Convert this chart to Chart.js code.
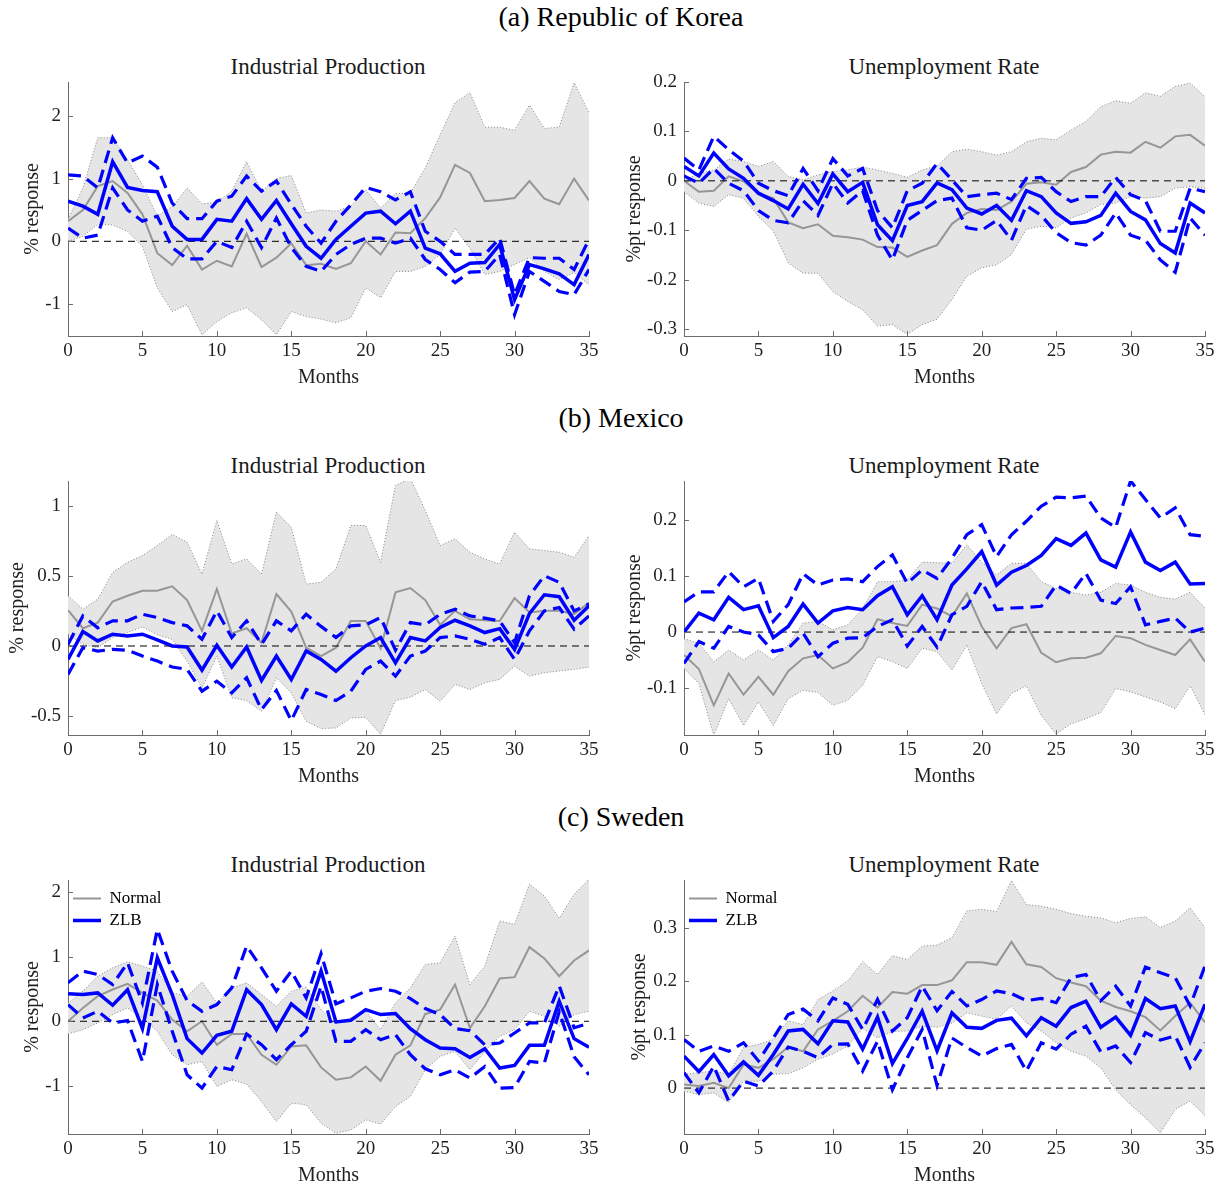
<!DOCTYPE html>
<html>
<head>
<meta charset="utf-8">
<script src="https://cdn.jsdelivr.net/npm/chart.js@4.4.1/dist/chart.umd.min.js"></script>
<style>
  html, body { margin:0; padding:0; background:#fff; }
  body { width:1224px; height:1186px; position:relative; overflow:hidden; font-family:'Liberation Serif', serif; }
  .sec { position:absolute; left:9px; width:1224px; text-align:center; font-size:28px; line-height:28px; color:#000; }
  .sub { position:absolute; width:500px; text-align:center; font-size:23px; line-height:23px; color:#1a1a1a; }
  canvas { position:absolute; }
</style>
</head>
<body>
<div class="sec" style="top:3px">(a) Republic of Korea</div>
<div class="sec" style="top:404px">(b) Mexico</div>
<div class="sec" style="top:803px">(c) Sweden</div>

<div class="sub" style="left:78px;top:55px">Industrial Production</div>
<div class="sub" style="left:694px;top:55px">Unemployment Rate</div>
<div class="sub" style="left:78px;top:454px">Industrial Production</div>
<div class="sub" style="left:694px;top:454px">Unemployment Rate</div>
<div class="sub" style="left:78px;top:853px">Industrial Production</div>
<div class="sub" style="left:694px;top:853px">Unemployment Rate</div>

<canvas id="kIP"></canvas>
<canvas id="kUR"></canvas>
<canvas id="mIP"></canvas>
<canvas id="mUR"></canvas>
<canvas id="sIP"></canvas>
<canvas id="sUR"></canvas>

<script>
// ---------------- DATA ----------------
const months = [0,1,2,3,4,5,6,7,8,9,10,11,12,13,14,15,16,17,18,19,20,21,22,23,24,25,26,27,28,29,30,31,32,33,34,35];
const xTicks = [0,5,10,15,20,25,30,35];
const zeroLineX = [0, 35];
const zeroLineY = [0, 0];

// (a) Korea – Industrial Production
const kIP_yTicks = [-1, 0, 1, 2];
const kIP_zlb = [0.64,0.56,0.43,1.27,0.86,0.81,0.79,0.24,0.03,0.03,0.35,0.32,0.68,0.35,0.65,0.28,-0.08,-0.27,0.03,0.24,0.45,0.48,0.28,0.48,-0.11,-0.20,-0.48,-0.35,-0.34,-0.05,-0.93,-0.37,-0.44,-0.52,-0.69,-0.21];
const kIP_zlbUp = [1.06,1.04,0.85,1.65,1.25,1.36,1.18,0.61,0.36,0.36,0.64,0.72,1.04,0.80,0.96,0.59,0.24,-0.03,0.32,0.58,0.86,0.79,0.66,0.79,0.16,0.00,-0.21,-0.21,-0.21,0.05,-0.85,-0.26,-0.27,-0.27,-0.45,0.03];
const kIP_zlbLo = [0.21,0.05,0.10,0.85,0.50,0.32,0.40,-0.10,-0.28,-0.28,0.00,-0.10,0.32,-0.10,0.37,-0.10,-0.40,-0.48,-0.21,-0.05,0.05,0.05,-0.03,0.05,-0.29,-0.45,-0.66,-0.49,-0.48,-0.21,-1.17,-0.48,-0.64,-0.80,-0.85,-0.45];
const kIP_normal = [0.32,0.50,0.88,0.96,0.77,0.43,-0.19,-0.38,-0.07,-0.45,-0.31,-0.40,0.12,-0.41,-0.26,-0.03,-0.38,-0.36,-0.44,-0.35,0.00,-0.21,0.14,0.13,0.37,0.70,1.22,1.09,0.64,0.66,0.69,0.96,0.68,0.59,1.00,0.65];
const kIP_bandUp = [0.35,0.85,1.65,1.65,1.30,0.90,0.40,0.55,0.85,0.60,0.62,0.80,1.27,0.80,1.00,1.05,0.45,0.50,0.48,0.56,0.82,0.53,0.76,0.77,1.17,1.70,2.21,2.37,1.82,1.82,1.77,2.17,1.80,1.82,2.53,2.05];
const kIP_bandLo = [0.00,0.08,0.27,0.26,0.16,-0.08,-0.74,-1.12,-1.01,-1.49,-1.28,-1.14,-1.06,-1.25,-1.49,-1.12,-1.20,-1.24,-1.30,-1.22,-0.74,-0.90,-0.48,-0.48,-0.40,-0.21,0.21,-0.11,-0.53,-0.48,-0.37,-0.26,-0.48,-0.61,-0.50,-0.69];

// (a) Korea – Unemployment Rate
const kUR_yTicks = [-0.3, -0.2, -0.1, 0, 0.1, 0.2];
const kUR_zlb = [0.029,0.010,0.056,0.024,0.005,-0.025,-0.040,-0.057,-0.007,-0.046,0.014,-0.022,-0.003,-0.089,-0.121,-0.050,-0.042,-0.004,-0.018,-0.055,-0.067,-0.050,-0.080,-0.020,-0.032,-0.065,-0.086,-0.083,-0.070,-0.025,-0.062,-0.079,-0.127,-0.146,-0.045,-0.065];
const kUR_zlbUp = [0.046,0.022,0.090,0.063,0.040,-0.005,-0.020,-0.030,0.025,-0.020,0.045,0.010,0.025,-0.060,-0.095,-0.020,-0.005,0.035,0.002,-0.032,-0.028,-0.025,-0.038,0.005,0.007,-0.022,-0.042,-0.032,-0.032,0.007,-0.028,-0.040,-0.102,-0.102,-0.015,-0.022];
const kUR_zlbLo = [0.010,-0.005,0.025,-0.005,-0.020,-0.060,-0.080,-0.085,-0.040,-0.070,-0.005,-0.045,-0.020,-0.110,-0.160,-0.080,-0.060,-0.040,-0.035,-0.095,-0.100,-0.080,-0.120,-0.050,-0.070,-0.105,-0.125,-0.130,-0.110,-0.065,-0.110,-0.120,-0.160,-0.185,-0.075,-0.110];
const kUR_normal = [0.000,-0.022,-0.020,0.009,-0.001,-0.026,-0.035,-0.084,-0.096,-0.088,-0.111,-0.114,-0.119,-0.134,-0.135,-0.154,-0.141,-0.130,-0.087,-0.065,-0.057,-0.059,-0.042,-0.006,-0.003,-0.008,0.018,0.028,0.053,0.059,0.057,0.079,0.067,0.090,0.093,0.071];
const kUR_bandUp = [0.000,0.016,0.022,0.044,0.039,0.029,0.039,0.009,0.002,0.012,0.019,0.022,0.028,0.022,0.015,0.007,0.022,0.030,0.059,0.064,0.059,0.052,0.059,0.079,0.086,0.083,0.103,0.120,0.150,0.162,0.157,0.178,0.171,0.191,0.198,0.170];
const kUR_bandLo = [-0.022,-0.045,-0.052,-0.028,-0.035,-0.072,-0.102,-0.166,-0.187,-0.187,-0.224,-0.244,-0.261,-0.294,-0.291,-0.311,-0.291,-0.280,-0.240,-0.193,-0.176,-0.170,-0.149,-0.098,-0.092,-0.095,-0.075,-0.065,-0.048,-0.045,-0.032,-0.035,-0.032,-0.015,-0.012,-0.015];

// (b) Mexico – Industrial Production
const mIP_yTicks = [-0.5, 0, 0.5, 1];
const mIP_zlb = [-0.096,0.103,0.036,0.084,0.072,0.084,0.043,0.000,-0.007,-0.172,0.005,-0.150,-0.007,-0.246,-0.072,-0.239,-0.036,-0.096,-0.180,-0.084,0.000,0.060,-0.120,0.060,0.036,0.132,0.184,0.144,0.096,0.124,-0.024,0.232,0.366,0.352,0.184,0.287];
const mIP_zlbUp = [0.010,0.215,0.130,0.180,0.180,0.227,0.203,0.167,0.144,0.048,0.251,0.060,0.180,0.012,0.180,0.108,0.227,0.140,0.060,0.144,0.151,0.203,-0.030,0.167,0.151,0.227,0.263,0.215,0.199,0.179,0.024,0.359,0.502,0.455,0.250,0.300];
const mIP_zlbLo = [-0.203,-0.012,-0.036,-0.024,-0.031,-0.072,-0.108,-0.150,-0.167,-0.323,-0.251,-0.335,-0.227,-0.455,-0.318,-0.533,-0.311,-0.347,-0.390,-0.323,-0.167,-0.108,-0.215,-0.072,-0.036,0.060,0.072,0.048,0.012,0.060,-0.096,0.108,0.251,0.275,0.120,0.215];
const mIP_normal = [0.256,0.127,0.167,0.318,0.359,0.395,0.395,0.426,0.328,0.108,0.407,0.089,0.127,0.024,0.371,0.246,-0.012,-0.072,-0.012,0.179,0.179,-0.017,0.383,0.414,0.328,0.151,0.251,0.191,0.184,0.179,0.342,0.239,0.251,0.251,0.227,0.311];
const mIP_bandUp = [0.359,0.263,0.335,0.526,0.598,0.646,0.718,0.797,0.742,0.514,0.897,0.586,0.622,0.514,0.957,0.849,0.443,0.455,0.550,0.861,0.861,0.598,1.148,1.196,0.969,0.718,0.766,0.670,0.622,0.586,0.813,0.694,0.682,0.670,0.634,0.789];
const mIP_bandLo = [0.084,0.012,-0.012,0.060,0.096,0.136,0.080,0.048,-0.108,-0.300,-0.072,-0.370,-0.390,-0.466,-0.227,-0.335,-0.538,-0.590,-0.586,-0.514,-0.510,-0.630,-0.390,-0.366,-0.311,-0.395,-0.275,-0.311,-0.263,-0.239,-0.144,-0.215,-0.191,-0.179,-0.167,-0.151];

// (b) Mexico – Unemployment Rate
const mUR_yTicks = [-0.1, 0, 0.1, 0.2];
const mUR_zlb = [0.000,0.034,0.022,0.062,0.040,0.047,-0.010,0.010,0.050,0.016,0.038,0.044,0.040,0.065,0.081,0.031,0.065,0.022,0.084,0.113,0.144,0.084,0.107,0.119,0.137,0.167,0.155,0.177,0.129,0.116,0.179,0.125,0.110,0.125,0.086,0.087];
const mUR_zlbUp = [0.054,0.072,0.072,0.108,0.081,0.096,0.019,0.049,0.104,0.084,0.093,0.095,0.090,0.117,0.138,0.087,0.111,0.096,0.132,0.174,0.192,0.135,0.174,0.198,0.225,0.241,0.240,0.243,0.204,0.187,0.270,0.237,0.204,0.222,0.174,0.171];
const mUR_zlbLo = [-0.056,-0.017,-0.029,0.010,0.000,-0.005,-0.035,-0.029,-0.002,-0.044,-0.020,-0.011,-0.010,0.010,0.022,-0.025,0.010,-0.027,0.031,0.046,0.090,0.040,0.043,0.044,0.046,0.084,0.069,0.105,0.057,0.051,0.081,0.013,0.019,0.025,0.000,0.007];
const mUR_normal = [-0.041,-0.066,-0.131,-0.074,-0.112,-0.080,-0.112,-0.070,-0.047,-0.041,-0.065,-0.054,-0.028,0.023,0.016,0.011,0.049,0.042,0.028,0.069,0.010,-0.029,0.007,0.014,-0.037,-0.054,-0.047,-0.046,-0.038,-0.007,-0.011,-0.023,-0.032,-0.041,-0.013,-0.053];
const mUR_bandUp = [-0.012,-0.020,-0.053,-0.032,-0.050,-0.032,-0.050,-0.023,0.016,0.019,0.004,0.013,0.042,0.090,0.090,0.093,0.125,0.124,0.123,0.156,0.125,0.102,0.123,0.123,0.090,0.078,0.071,0.066,0.071,0.087,0.084,0.071,0.062,0.059,0.071,0.043];
const mUR_bandLo = [-0.065,-0.092,-0.185,-0.119,-0.167,-0.125,-0.167,-0.119,-0.104,-0.108,-0.131,-0.122,-0.095,-0.044,-0.053,-0.065,-0.029,-0.035,-0.068,-0.023,-0.092,-0.146,-0.110,-0.096,-0.149,-0.182,-0.164,-0.155,-0.144,-0.101,-0.107,-0.116,-0.125,-0.137,-0.096,-0.148];

// (c) Sweden – Industrial Production
const sIP_yTicks = [-1, 0, 1, 2];
const sIP_zlb = [0.425,0.415,0.440,0.249,0.490,-0.114,0.984,0.415,-0.269,-0.492,-0.218,-0.155,0.490,0.259,-0.130,0.269,0.078,0.780,-0.010,0.016,0.181,0.104,0.119,-0.114,-0.285,-0.415,-0.425,-0.560,-0.425,-0.725,-0.684,-0.373,-0.373,0.311,-0.269,-0.404];
const sIP_zlbUp = [0.596,0.777,0.725,0.570,0.907,0.285,1.425,0.777,0.321,0.155,0.259,0.518,1.166,0.829,0.466,0.777,0.363,1.050,0.269,0.363,0.466,0.508,0.466,0.352,0.197,0.104,-0.114,-0.145,-0.363,-0.337,-0.181,-0.026,-0.026,0.550,-0.100,-0.030];
const sIP_zlbLo = [0.259,0.052,0.155,-0.026,0.010,-0.622,0.570,-0.155,-0.829,-1.036,-0.700,-0.751,-0.197,-0.363,-0.596,-0.363,-0.155,0.540,-0.311,-0.311,-0.130,-0.285,-0.207,-0.518,-0.736,-0.829,-0.751,-0.881,-0.700,-1.036,-1.026,-0.622,-0.648,0.150,-0.550,-0.830];
const sIP_normal = [0.000,0.207,0.389,0.492,0.580,0.440,0.321,0.026,-0.155,0.000,-0.363,-0.197,-0.197,-0.518,-0.674,-0.389,-0.373,-0.715,-0.907,-0.870,-0.700,-0.922,-0.518,-0.373,0.114,0.181,0.570,-0.104,0.233,0.663,0.684,1.150,0.974,0.699,0.943,1.098];
const sIP_bandUp = [0.280,0.466,0.699,0.829,0.922,0.855,0.777,0.440,0.389,0.611,0.285,0.518,0.596,0.415,0.233,0.466,0.528,0.181,-0.030,0.052,0.155,-0.130,0.285,0.518,0.881,0.907,1.321,0.570,0.855,1.554,1.503,2.124,1.943,1.596,1.969,2.200];
const sIP_bandLo = [-0.197,-0.130,-0.026,0.104,0.207,0.052,-0.155,-0.518,-0.674,-0.622,-1.010,-0.907,-0.974,-1.244,-1.554,-1.269,-1.295,-1.580,-1.736,-1.684,-1.528,-1.596,-1.321,-1.166,-0.751,-0.544,-0.466,-0.751,-0.466,-0.233,-0.130,0.155,0.078,-0.078,0.104,0.155];

// (c) Sweden – Unemployment Rate
const sUR_yTicks = [0, 0.1, 0.2, 0.3];
const sUR_zlb = [0.060,0.031,0.063,0.023,0.049,0.024,0.063,0.107,0.110,0.083,0.126,0.124,0.073,0.133,0.046,0.093,0.144,0.070,0.141,0.114,0.112,0.127,0.131,0.098,0.132,0.116,0.151,0.163,0.114,0.133,0.099,0.168,0.149,0.154,0.087,0.157];
const sUR_zlbUp = [0.091,0.069,0.079,0.069,0.085,0.051,0.094,0.138,0.148,0.126,0.169,0.157,0.110,0.166,0.107,0.132,0.191,0.145,0.181,0.154,0.166,0.182,0.177,0.164,0.168,0.160,0.207,0.213,0.164,0.191,0.154,0.227,0.216,0.207,0.154,0.229];
const sUR_zlbLo = [0.029,-0.009,0.041,-0.024,0.013,0.004,0.032,0.077,0.069,0.057,0.082,0.083,0.032,0.088,-0.003,0.057,0.110,0.005,0.094,0.076,0.060,0.074,0.082,0.032,0.085,0.073,0.101,0.116,0.068,0.079,0.048,0.104,0.090,0.098,0.039,0.085];
const sUR_normal = [0.007,0.004,0.010,0.000,0.044,0.038,0.054,0.077,0.069,0.110,0.126,0.144,0.173,0.151,0.180,0.177,0.193,0.193,0.202,0.236,0.236,0.231,0.274,0.232,0.227,0.206,0.198,0.191,0.164,0.152,0.144,0.133,0.108,0.135,0.160,0.123];
const sUR_bandUp = [0.026,0.029,0.032,0.026,0.076,0.082,0.091,0.126,0.119,0.166,0.182,0.201,0.237,0.213,0.248,0.241,0.266,0.268,0.282,0.332,0.335,0.331,0.389,0.344,0.341,0.335,0.327,0.322,0.319,0.310,0.318,0.321,0.301,0.313,0.338,0.301];
const sUR_bandLo = [-0.006,-0.012,-0.009,-0.027,0.013,0.013,0.026,0.027,0.038,0.054,0.064,0.079,0.112,0.094,0.106,0.107,0.116,0.114,0.122,0.141,0.135,0.129,0.154,0.122,0.107,0.085,0.069,0.060,0.038,-0.003,-0.031,-0.056,-0.084,-0.040,-0.024,-0.052];

// ---------------- STYLE / LAYOUT ----------------
const FONT = "'Liberation Serif', serif";
const TICK_FS = 19;
const TITLE_FS = 20;
const AXIS_COLOR = '#6b6b6b';
const TEXT_COLOR = '#1f1f1f';
const BLUE = 'rgb(0,0,255)';
const GRAY = 'rgb(150,150,150)';
const BAND = 'rgb(229,229,229)';
const BAND_EDGE = 'rgb(120,120,120)';

Chart.defaults.font.family = FONT;

const inwardTicks = {
  id: 'inwardTicks',
  afterDraw(chart) {
    const {ctx, chartArea: a, scales: {x, y}} = chart;
    ctx.save();
    ctx.strokeStyle = AXIS_COLOR;
    ctx.lineWidth = 1;
    ctx.beginPath();
    x.ticks.forEach(t => {
      const px = Math.round(x.getPixelForValue(t.value)) + 0.5;
      ctx.moveTo(px, a.bottom); ctx.lineTo(px, a.bottom - 5);
    });
    y.ticks.forEach(t => {
      const py = Math.round(y.getPixelForValue(t.value)) + 0.5;
      ctx.moveTo(a.left, py); ctx.lineTo(a.left + 5, py);
    });
    ctx.stroke();
    ctx.restore();
  }
};

function pts(xs, ys) { return ys.map((v, i) => ({x: xs[i], y: v})); }

function makePanel(p) {
  const cv = document.getElementById(p.id);
  cv.width = p.w; cv.height = p.h;
  cv.style.left = p.left + 'px'; cv.style.top = p.top + 'px';
  cv.style.width = p.w + 'px'; cv.style.height = p.h + 'px';

  const dash = [13, 7];
  const datasets = [
    {label: 'bandUpper', data: pts(months, p.bandUp), borderColor: BAND_EDGE, borderWidth: 0.9, borderDash: [1, 2],
     backgroundColor: BAND, fill: '+1', order: 10},
    {label: 'bandLower', data: pts(months, p.bandLo), borderColor: BAND_EDGE, borderWidth: 0.9, borderDash: [1, 2],
     fill: false, order: 9},
    {label: 'Normal', data: pts(months, p.normal), borderColor: GRAY, backgroundColor: GRAY, borderWidth: 2, fill: false, order: 8},
    {label: 'zero', data: pts(zeroLineX, zeroLineY), borderColor: '#000', borderWidth: 1, borderDash: [7, 5], fill: false, order: 7},
    {label: 'ZLB upper', data: pts(months, p.zlbUp), borderColor: BLUE, borderWidth: 3.2, borderDash: dash, fill: false, order: 3},
    {label: 'ZLB lower', data: pts(months, p.zlbLo), borderColor: BLUE, borderWidth: 3.2, borderDash: dash, fill: false, order: 2},
    {label: 'ZLB', data: pts(months, p.zlb), borderColor: BLUE, backgroundColor: BLUE, borderWidth: 3.5, fill: false, order: 1}
  ];

  new Chart(cv, {
    type: 'line',
    data: {datasets},
    plugins: [inwardTicks],
    options: {
      responsive: false,
      animation: false,
      events: [],
      devicePixelRatio: 1,
      elements: {point: {radius: 0}, line: {tension: 0}},
      layout: {padding: {left: p.padL, right: p.padR, top: 24, bottom: 0}},
      plugins: {
        tooltip: {enabled: false},
        legend: {
          display: !!p.legend,
          position: 'chartArea',
          align: 'start',
          title: {display: true, text: ' ', font: {size: 1, lineHeight: 1}, padding: {top: 28, bottom: 0}},
          labels: {
            filter: item => item.text === 'Normal' || item.text === 'ZLB',
            sort: (a, b) => a.datasetIndex - b.datasetIndex,
            usePointStyle: true,
            pointStyle: 'line',
            pointStyleWidth: 28,
            color: '#000',
            padding: 5,
            font: {family: FONT, size: 17, lineHeight: 0.9}
          }
        }
      },
      scales: {
        x: {
          type: 'linear', min: 0, max: 35,
          afterBuildTicks: s => { s.ticks = xTicks.map(v => ({value: v})); },
          afterFit: s => { s.height = 54; },
          grid: {display: true, drawOnChartArea: false, drawTicks: false},
          border: {display: true, color: AXIS_COLOR, width: 1},
          ticks: {padding: 4, color: TEXT_COLOR, font: {family: FONT, size: TICK_FS}, maxRotation: 0, autoSkip: false},
          title: {display: true, text: 'Months', color: TEXT_COLOR, font: {family: FONT, size: TITLE_FS, lineHeight: 1.2}, padding: {top: 0, bottom: 0}}
        },
        y: {
          type: 'linear', min: p.ymin, max: p.ymax,
          afterBuildTicks: s => { s.ticks = p.yTicks.map(v => ({value: v})); },
          afterFit: s => { s.width = p.yw; },
          grid: {display: true, drawOnChartArea: false, drawTicks: false},
          border: {display: true, color: AXIS_COLOR, width: 1},
          ticks: {padding: 7, color: TEXT_COLOR, font: {family: FONT, size: TICK_FS}, callback: v => String(v)},
          title: {display: true, text: p.ylabel, color: TEXT_COLOR, font: {family: FONT, size: TITLE_FS, lineHeight: 1.2}, padding: {top: 0, bottom: 0}}
        }
      }
    }
  });
}

// canvas: 24px top padding + 254px plot + 54px x-axis block
const CW = 612, CH = 332;
const rowTop = [58, 457, 856];

makePanel({id: 'kIP', left: 0, top: rowTop[0], w: CW, h: CH, padL: 21, padR: 23, yw: 47, ymin: -1.51, ymax: 2.54,
  yTicks: kIP_yTicks, ylabel: '% response', zlb: kIP_zlb, zlbUp: kIP_zlbUp, zlbLo: kIP_zlbLo, normal: kIP_normal, bandUp: kIP_bandUp, bandLo: kIP_bandLo});
makePanel({id: 'kUR', left: 612, top: rowTop[0], w: CW, h: CH, padL: 11, padR: 19, yw: 61, ymin: -0.314, ymax: 0.2,
  yTicks: kUR_yTicks, ylabel: '%pt response', zlb: kUR_zlb, zlbUp: kUR_zlbUp, zlbLo: kUR_zlbLo, normal: kUR_normal, bandUp: kUR_bandUp, bandLo: kUR_bandLo});
makePanel({id: 'mIP', left: 0, top: rowTop[1], w: CW, h: CH, padL: 6, padR: 23, yw: 62, ymin: -0.636, ymax: 1.179,
  yTicks: mIP_yTicks, ylabel: '% response', zlb: mIP_zlb, zlbUp: mIP_zlbUp, zlbLo: mIP_zlbLo, normal: mIP_normal, bandUp: mIP_bandUp, bandLo: mIP_bandLo});
makePanel({id: 'mUR', left: 612, top: rowTop[1], w: CW, h: CH, padL: 11, padR: 19, yw: 61, ymin: -0.184, ymax: 0.27,
  yTicks: mUR_yTicks, ylabel: '%pt response', zlb: mUR_zlb, zlbUp: mUR_zlbUp, zlbLo: mUR_zlbLo, normal: mUR_normal, bandUp: mUR_bandUp, bandLo: mUR_bandLo});
makePanel({id: 'sIP', left: 0, top: rowTop[2], w: CW, h: CH, padL: 21, padR: 23, yw: 47, ymin: -1.747, ymax: 2.19, legend: true,
  yTicks: sIP_yTicks, ylabel: '% response', zlb: sIP_zlb, zlbUp: sIP_zlbUp, zlbLo: sIP_zlbLo, normal: sIP_normal, bandUp: sIP_bandUp, bandLo: sIP_bandLo});
makePanel({id: 'sUR', left: 612, top: rowTop[2], w: CW, h: CH, padL: 16, padR: 19, yw: 56, ymin: -0.086, ymax: 0.39, legend: true,
  yTicks: sUR_yTicks, ylabel: '%pt response', zlb: sUR_zlb, zlbUp: sUR_zlbUp, zlbLo: sUR_zlbLo, normal: sUR_normal, bandUp: sUR_bandUp, bandLo: sUR_bandLo});
</script>
</body>
</html>
